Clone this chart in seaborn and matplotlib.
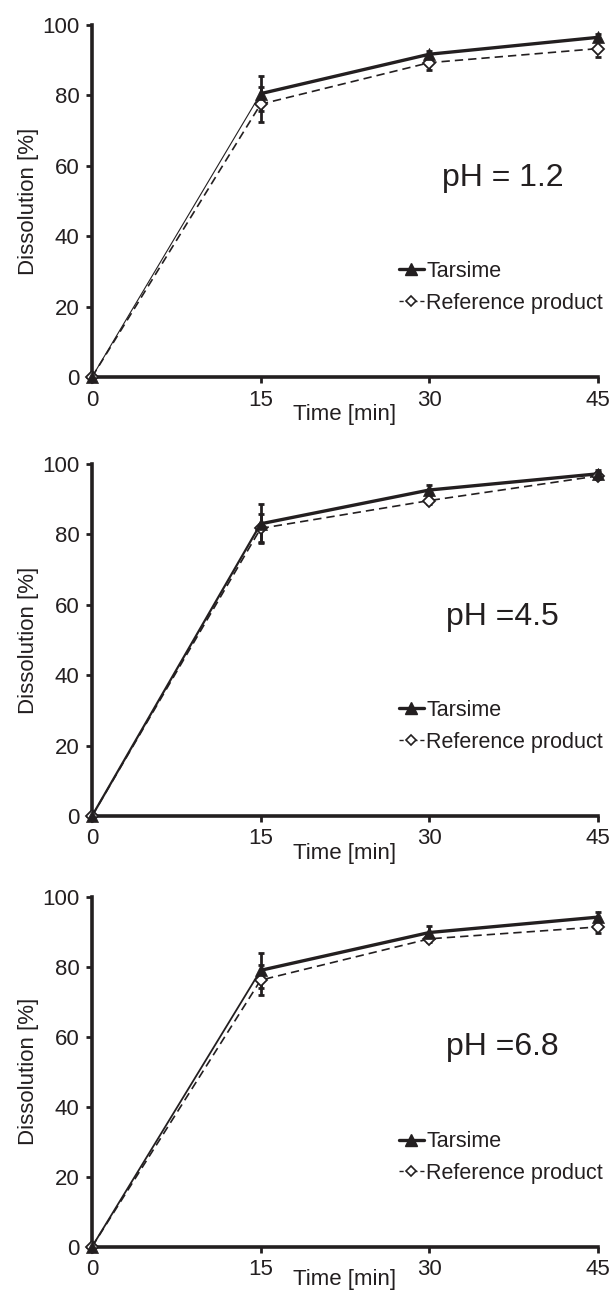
import pandas as pd
import numpy as np
import matplotlib
matplotlib.use("Agg")
import matplotlib.pyplot as plt
from matplotlib.lines import Line2D
import seaborn as sns

# --- data ---
time_min = [0, 15, 30, 45]
ph_labels = ['pH = 1.2', 'pH =4.5', 'pH =6.8']

tarsime_mean = [
    [0, 80.5, 91.7, 96.5],
    [0, 83.0, 92.6, 97.2],
    [0, 79.0, 89.8, 94.2],
]
tarsime_sd = [
    [0, 5.0, 1.0, 1.0],
    [0, 5.5, 1.3, 1.0],
    [0, 5.0, 2.0, 1.6],
]
ref_mean = [
    [0, 77.5, 89.3, 93.3],
    [0, 81.7, 89.6, 96.6],
    [0, 76.2, 88.0, 91.4],
]
ref_sd = [
    [0, 5.0, 2.0, 2.4],
    [0, 4.0, 1.0, 1.0],
    [0, 4.3, 1.0, 1.8],
]
ph_text_y = [56.5, 56.5, 57]
first_seg_lw = [0.8, 1.6, 1.3]  # the 0-15 min segment is drawn thinner

rows = []
for i, ph in enumerate(ph_labels):
    for j, t in enumerate(time_min):
        rows.append({'pH': ph, 'Time': t, 'Product': 'Tarsime',
                     'Dissolution': tarsime_mean[i][j], 'SD': tarsime_sd[i][j]})
        rows.append({'pH': ph, 'Time': t, 'Product': 'Reference product',
                     'Dissolution': ref_mean[i][j], 'SD': ref_sd[i][j]})
df = pd.DataFrame(rows)

# --- plotting ---
sns.set_style("ticks")
plt.rcParams['font.family'] = ['Liberation Sans', 'DejaVu Sans']
ink = '#231f20'
fs = 16

fig = plt.figure(figsize=(6.11, 12.96), dpi=100)
boxes = [(0.1506, 0.7091, 0.828, 0.2716),
         (0.1506, 0.3704, 0.828, 0.2716),
         (0.1506, 0.0380, 0.828, 0.2700)]
xlabel_pad = [-5, -5, -8]

for i, ph in enumerate(ph_labels):
    ax = fig.add_axes(boxes[i])
    sub = df[df['pH'] == ph]
    t = sub[sub['Product'] == 'Tarsime']
    r = sub[sub['Product'] == 'Reference product']

    ax.errorbar(t['Time'], t['Dissolution'], yerr=t['SD'], fmt='none',
                ecolor=ink, elinewidth=2, capsize=2.5, capthick=2, zorder=2)
    ax.errorbar(r['Time'], r['Dissolution'], yerr=r['SD'], fmt='none',
                ecolor=ink, elinewidth=2, capsize=2.5, capthick=2, zorder=2)

    # Tarsime: thin rising segment, thicker plateau
    sns.lineplot(data=t[t['Time'] <= 15], x='Time', y='Dissolution', ax=ax,
                 color=ink, linewidth=first_seg_lw[i], zorder=3, legend=False)
    sns.lineplot(data=t[t['Time'] >= 15], x='Time', y='Dissolution', ax=ax,
                 color=ink, linewidth=2.4, zorder=3, legend=False)
    sns.scatterplot(data=t, x='Time', y='Dissolution', ax=ax, color=ink,
                    marker='^', s=75, edgecolor=ink, linewidth=0.5,
                    zorder=5, legend=False, clip_on=False)

    sns.lineplot(data=r, x='Time', y='Dissolution', ax=ax, color=ink,
                 linewidth=1.2, linestyle=(0, (5, 3)), marker='D', markersize=6,
                 markeredgecolor=ink, markerfacecolor='white',
                 markeredgewidth=1.3, zorder=4, legend=False)

    ax.set_xlim(0, 45)
    ax.set_ylim(0, 100)
    ax.set_xticks(time_min)
    ax.set_yticks([0, 20, 40, 60, 80, 100])
    for m in ax.lines:
        m.set_clip_on(False)

    ax.set_xlabel('Time [min]', fontsize=fs, color=ink, labelpad=xlabel_pad[i])
    ax.set_ylabel('Dissolution [%]', fontsize=fs, color=ink, labelpad=2)
    ax.tick_params(axis='both', labelsize=fs, colors=ink,
                   length=4, width=2, direction='out', pad=5)

    for side in ['top', 'right']:
        ax.spines[side].set_visible(False)
    for side in ['left', 'bottom']:
        ax.spines[side].set_linewidth(2.6)
        ax.spines[side].set_color(ink)

    ax.text(36.5, ph_text_y[i], ph, fontsize=23, color=ink,
            ha='center', va='center')

    handles = [
        Line2D([], [], color=ink, linewidth=2.4, marker='^', markersize=8.5,
               markerfacecolor=ink, markeredgecolor=ink),
        Line2D([], [], color=ink, linewidth=1.0, linestyle=(0, (3, 2)), marker='D',
               markersize=5.5, markerfacecolor='white', markeredgecolor=ink,
               markeredgewidth=1.2),
    ]
    leg = ax.legend(handles, ['Tarsime', 'Reference product'], loc='center left',
                    bbox_to_anchor=(0.607, 0.255), frameon=False, fontsize=15.5,
                    handlelength=1.15, handletextpad=0.1, labelspacing=0.5,
                    borderaxespad=0, borderpad=0)
    for txt in leg.get_texts():
        txt.set_color(ink)

fig.savefig('out.png', dpi=100)
